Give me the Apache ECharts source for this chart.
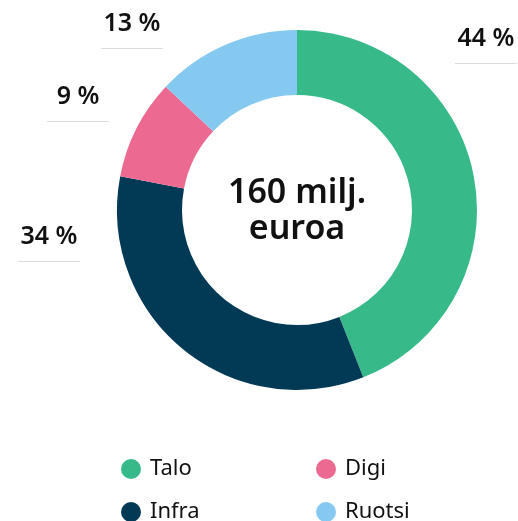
<!DOCTYPE html>
<html>
<head>
<meta charset="utf-8">
<script src="https://cdn.jsdelivr.net/npm/echarts@6/dist/echarts.min.js"></script>
<style>
  html, body { margin: 0; padding: 0; background: #fff; }
  #main { width: 518px; height: 521px; }
</style>
</head>
<body>
<div id="main"></div>
<script>
// data (clockwise from 12 o'clock)
const names = ['Talo', 'Infra', 'Digi', 'Ruotsi'];
const shares = [44, 34, 9, 13];
const colors = ['#37b98a', '#023a56', '#ec6a92', '#86c9f0'];
const legendOrder = ['Talo', 'Digi', 'Infra', 'Ruotsi'];
const centerText = '160 milj.\neuroa';

// where each percentage label sits (text centre)
const labelPos = [[486, 39], [49, 237], [78, 97], [132, 24]];

const font = '"Noto Sans", sans-serif';

const chart = echarts.init(document.getElementById('main'));

const option = {
  animation: false,
  color: colors,
  legend: {
    data: legendOrder,
    orient: 'horizontal',
    left: 116,
    top: 453,
    width: 390,
    icon: 'circle',
    itemWidth: 20,
    itemHeight: 20,
    itemGap: 21,
    textStyle: {
      fontFamily: font,
      fontSize: 22,
      color: '#111',
      width: 145,
      height: 20,
      lineHeight: 20,
      padding: [0, 0, 0, 4]
    }
  },
  graphic: [
    {
      type: 'text',
      x: 297,
      y: 211,
      style: {
        text: centerText,
        fontFamily: font,
        fontSize: 34,
        fontWeight: 600,
        lineHeight: 36,
        fill: '#111',
        align: 'center',
        verticalAlign: 'middle'
      }
    }
  ],
  series: [
    {
      type: 'pie',
      center: [297, 210],
      radius: [115, 180],
      startAngle: 90,
      clockwise: true,
      avoidLabelOverlap: false,
      silent: true,
      data: names.map((n, i) => ({ name: n, value: shares[i] })),
      label: {
        show: true,
        position: 'outside',
        formatter: (p) => '{v|' + p.value + ' %}\n{u|}',
        rich: {
          v: { fontFamily: font, fontSize: 25, fontWeight: 600, color: '#111', lineHeight: 48, align: 'center' },
          u: { width: 62, height: 1, lineHeight: 1, backgroundColor: '#dcdcdc', align: 'center' }
        }
      },
      labelLine: { show: false },
      labelLayout: (params) => ({
        x: labelPos[params.dataIndex][0],
        y: labelPos[params.dataIndex][1] - 24,
        align: 'center',
        verticalAlign: 'top'
      })
    }
  ]
};

chart.setOption(option);
</script>
</body>
</html>
